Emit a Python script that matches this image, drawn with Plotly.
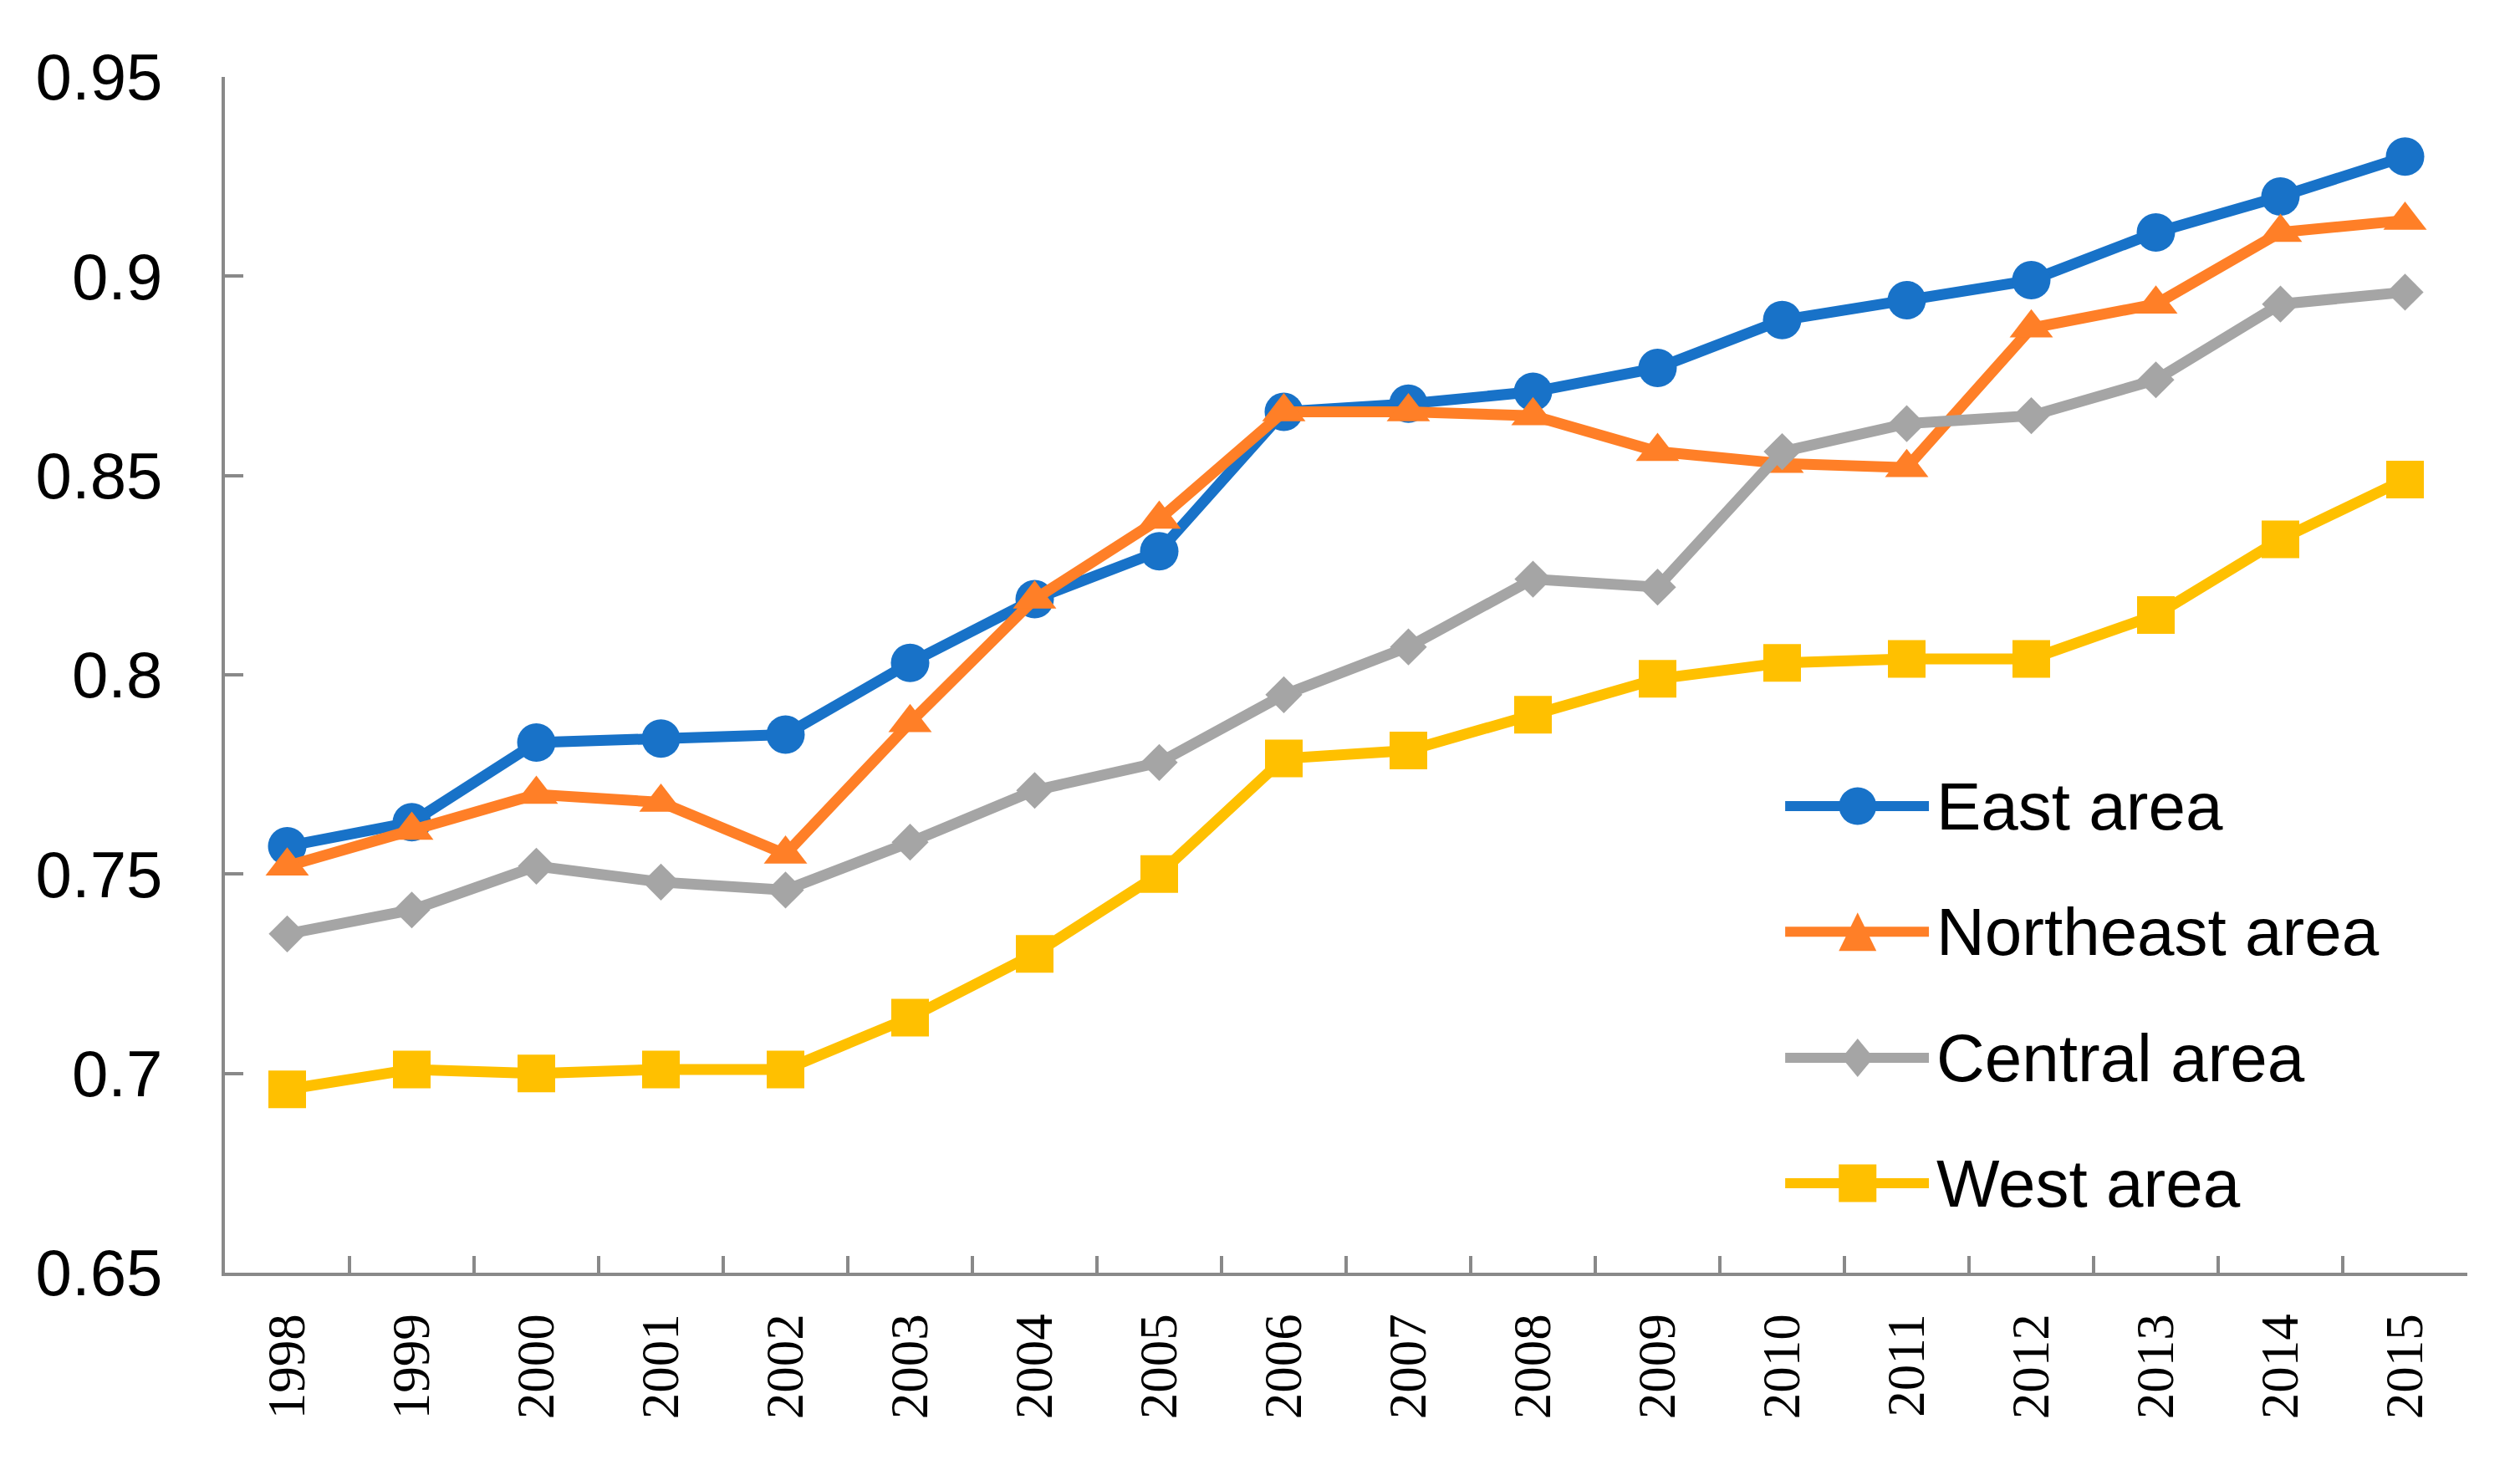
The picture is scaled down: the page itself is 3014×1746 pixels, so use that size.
import plotly.graph_objects as go

years = [str(y) for y in range(1998, 2016)]
east = [0.757, 0.763, 0.783, 0.784, 0.785, 0.803, 0.819, 0.831, 0.866, 0.868,
        0.871, 0.877, 0.889, 0.894, 0.899, 0.911, 0.920, 0.930]
northeast = [0.752, 0.761, 0.770, 0.768, 0.755, 0.788, 0.819, 0.839, 0.866, 0.866,
             0.865, 0.856, 0.853, 0.852, 0.887, 0.893, 0.911, 0.914]
central = [0.735, 0.741, 0.752, 0.748, 0.746, 0.758, 0.771, 0.778, 0.795, 0.807,
           0.824, 0.822, 0.856, 0.863, 0.865, 0.874, 0.893, 0.896]
west = [0.696, 0.701, 0.700, 0.701, 0.701, 0.714, 0.730, 0.750, 0.779, 0.781,
        0.790, 0.799, 0.803, 0.804, 0.804, 0.815, 0.834, 0.849]

series_names = ["East area", "Northeast area", "Central area", "West area"]
y_tickvals = [0.65, 0.7, 0.75, 0.8, 0.85, 0.9, 0.95]
y_ticktext = ["0.65", "0.7", "0.75", "0.8", "0.85", "0.9", "0.95"]

colors = ["#1872C8", "#FF7F27", "#A5A5A5", "#FFC000"]
symbols = ["circle", "triangle-up", "diamond", "square"]
msizes = [46, 45, 34, 45]

fig = go.Figure()
for name, vals, c, s, ms in zip(series_names, [east, northeast, central, west], colors, symbols, msizes):
    fig.add_trace(go.Scatter(
        x=years, y=vals, name=name, mode="lines+markers",
        line=dict(color=c, width=13),
        marker=dict(symbol=s, size=ms, color=c, line=dict(width=0)),
        showlegend=False,
    ))

axis_col = "#898989"
fig.update_layout(
    width=3014, height=1746,
    margin=dict(l=261, r=71, t=84, b=232),
    paper_bgcolor="white", plot_bgcolor="white",
    xaxis=dict(
        type="category", range=[-0.5, 17.5],
        showline=True, linecolor=axis_col, linewidth=4,
        showgrid=False, zeroline=False,
        ticks="inside", tickson="boundaries", ticklen=20, tickwidth=4, tickcolor=axis_col,
        tickangle=-90, ticklabelstandoff=20,
        tickfont=dict(family="Liberation Serif, Times New Roman, serif", size=63, color="black"),
    ),
    yaxis=dict(
        range=[0.65, 0.95], tickvals=y_tickvals, ticktext=y_ticktext,
        showline=True, linecolor=axis_col, linewidth=4,
        showgrid=False, zeroline=False,
        ticks="inside", ticklen=22, tickwidth=4, tickcolor=axis_col,
        ticklabelstandoff=55,
        tickfont=dict(family="Liberation Sans, Arial, sans-serif", size=78, color="black"),
    ),
)

# custom legend (layout elements in paper coordinates)
leg_x0, leg_x1, leg_mx, leg_tx = 0.6958, 0.7599, 0.7281, 0.7625
leg_rows = [0.3902, 0.2852, 0.1797, 0.0748]
shapes = []
annotations = []
half = 22.5
for name, c, s, yy in zip(series_names, colors, symbols, leg_rows):
    shapes.append(dict(type="line", xref="paper", yref="paper", x0=leg_x0, x1=leg_x1, y0=yy, y1=yy,
                       line=dict(color=c, width=12), layer="above"))
    common = dict(xref="paper", yref="paper", xsizemode="pixel", ysizemode="pixel",
                  xanchor=leg_mx, yanchor=yy, fillcolor=c, line=dict(width=0), layer="above")
    if s == "circle":
        shapes.append(dict(type="circle", x0=-half, x1=half, y0=-half, y1=half, **common))
    elif s == "square":
        shapes.append(dict(type="rect", x0=-half, x1=half, y0=-half, y1=half, **common))
    elif s == "triangle-up":
        shapes.append(dict(type="path", path="M -22.5,-23 L 22.5,-23 L 0,23 Z", **common))
    else:
        shapes.append(dict(type="path", path="M 0,23 L 19,0 L 0,-23 L -19,0 Z", **common))
    annotations.append(dict(text=name, xref="paper", yref="paper", x=leg_tx, y=yy,
                            xanchor="left", yanchor="middle", showarrow=False,
                            font=dict(family="Liberation Sans, Arial, sans-serif",
                                      size=80, color="black")))
fig.update_layout(shapes=shapes, annotations=annotations)

fig.write_html("out.html")
